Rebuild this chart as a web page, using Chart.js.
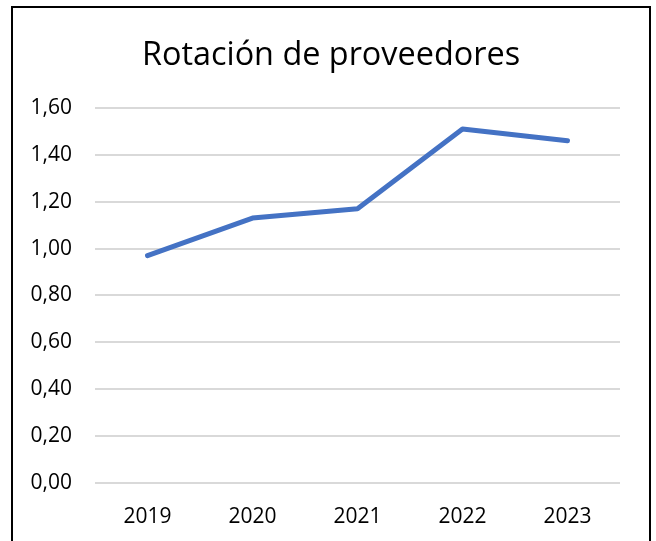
<!DOCTYPE html>
<html><head><meta charset="utf-8">
<script src="https://cdn.jsdelivr.net/npm/chart.js@4"></script>
<style>
html,body{margin:0;padding:0;background:#fff;}
#wrap{position:relative;width:656px;height:541px;}
#frame{position:absolute;left:11px;top:6px;width:640px;height:540px;border:2.5px solid #000;box-sizing:border-box;pointer-events:none;}
</style></head>
<body>
<div id="wrap"><canvas id="c" width="656" height="541"></canvas><div id="frame"></div></div>
<script>
const categories = ["2019","2020","2021","2022","2023"];
const rotacion = [0.97, 1.13, 1.17, 1.51, 1.46];
const titleText = "Rotación de proveedores";
const yMin = 0, yMax = 1.6, yStep = 0.2;

const FONT = "'Open Sans', 'Noto Sans', sans-serif";
const shiftTitle = {
  id: 'shiftTitle',
  afterLayout(chart) {
    const tb = chart.titleBlock;
    if (tb) { tb.left += 11; tb.right += 11; }
  }
};
new Chart(document.getElementById('c'), {
  type: 'line',
  data: {
    labels: categories,
    datasets: [{
      data: rotacion,
      borderColor: '#4472C4',
      borderWidth: 5,
      pointRadius: 0,
      borderCapStyle: 'round',
      borderJoinStyle: 'round',
      tension: 0,
      fill: false
    }]
  },
  plugins: [shiftTitle],
  options: {
    responsive: false,
    animation: false,
    devicePixelRatio: 1,
    layout: { padding: { left: 20, right: 36, top: 36, bottom: 12 } },
    plugins: {
      legend: { display: false },
      tooltip: { enabled: false },
      title: {
        display: true,
        text: titleText,
        color: '#000',
        font: { family: FONT, size: 32.4, weight: 'normal' },
        padding: { top: 0, bottom: 33 }
      }
    },
    scales: {
      x: {
        offset: true,
        afterFit: (s) => { s.height = 46; },
        grid: { display: false, drawTicks: false },
        border: { display: false },
        ticks: { color: '#000', padding: 21, maxRotation: 0, font: { family: FONT, size: 21 } }
      },
      y: {
        min: yMin, max: yMax,
        afterFit: (s) => { s.width = 75; },
        grid: { color: '#d9d9d9', lineWidth: 2, drawTicks: false },
        border: { display: false },
        ticks: {
          stepSize: yStep, color: '#000', padding: 23,
          font: { family: FONT, size: 21 },
          callback: (v) => Number(v).toFixed(2).replace('.', ',')
        }
      }
    }
  }
});
</script>
</body></html>
